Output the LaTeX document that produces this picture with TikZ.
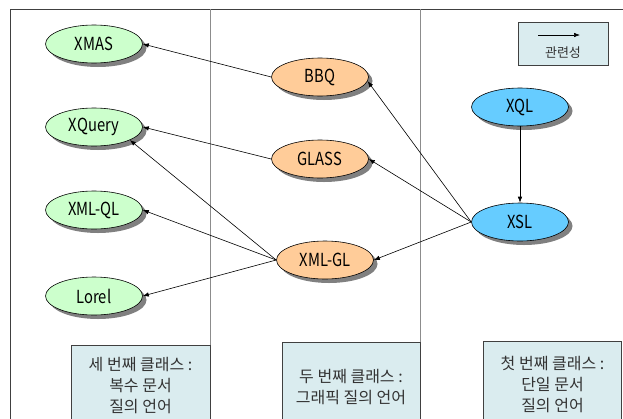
\documentclass[tikz,border=0pt]{standalone}
\usepackage{fontspec}
\setmainfont{Noto Sans CJK KR}[FakeStretch=0.82]
\newfontfamily\korfont{Noto Sans CJK KR}
\usetikzlibrary{shapes.geometric,shadows,arrows.meta}
\definecolor{lgreen}{HTML}{CCFFCC}
\definecolor{lorange}{HTML}{FFCC99}
\definecolor{lblue}{HTML}{66CCFF}
\definecolor{boxfill}{HTML}{DAECEF}
\definecolor{frameclr}{HTML}{404040}
\definecolor{divclr}{HTML}{8C8C8C}
\tikzset{
  lang/.style={ellipse, draw=black, line width=0.6pt, minimum width=97pt, minimum height=38pt,
    inner sep=0pt, font=\fontsize{18}{18}\selectfont,
    drop shadow={shadow xshift=4pt, shadow yshift=-4pt, fill=black!50, opacity=1}},
  g1/.style={lang, fill=lgreen},
  g2/.style={lang, fill=lorange},
  g3/.style={lang, fill=lblue},
  conn/.style={-{Latex[length=6pt,width=4.5pt]}, line width=0.6pt, draw=black},
  classbox/.style={draw=frameclr, fill=boxfill, line width=0.7pt},
  classtxt/.style={align=center, font=\korfont\fontsize{16}{21}\selectfont, text=black!80},
}
\begin{document}
\begin{tikzpicture}[x=1pt,y=-1pt]
\useasboundingbox (0,0) rectangle (623,418);
\clip (0,0) rectangle (623,418);
\fill[white] (0,0) rectangle (623,418);
% frame and dividers
\draw[frameclr, line width=0.8pt] (10,9) rectangle (660,460);
\draw[divclr, line width=0.8pt] (210,9) -- (210,418);
\draw[divclr, line width=0.8pt] (420,9) -- (420,418);
% class boxes
\draw[classbox] (71,345) rectangle (210,440);
\draw[classbox] (282,342) rectangle (420,440);
\draw[classbox] (483,341) rectangle (621.5,440);
\node[classtxt] (c3) at (140.5,386) {세 번째 클래스 :\\복수 문서\\질의 언어};
\node[classtxt] (c2) at (351,387) {두 번째 클래스 :\\그래픽 질의 언어};
\node[classtxt] (c1) at (552.5,384) {첫 번째 클래스 :\\단일 문서\\질의 언어};
% legend
\draw[classbox] (518,22) rectangle (608,65);
\coordinate (la) at (538,35);
\coordinate (lb) at (580,35);
\draw[conn] (la) -- (lb);
\node[font=\korfont\fontsize{13}{13}\selectfont, text=black!80] (lt) at (563,53) {관련성};
% nodes
\node[g1] (xmas) at (94,44) {XMAS};
\node[g1] (xquery) at (94,127) {XQuery};
\node[g1] (xmlql) at (94,210) {XML-QL};
\node[g1] (lorel) at (94,296) {Lorel};
\node[g2] (bbq) at (320,77) {BBQ};
\node[g2] (glass) at (320,159) {GLASS};
\node[g2] (xmlgl) at (325,260) {XML-GL};
\node[g3] (xql) at (520,107) {XQL};
\node[g3] (xsl) at (520,222) {XSL};
% connectors
\draw[conn] (bbq.west) -- (xmas.east);
\draw[conn] (glass.west) -- (xquery.east);
\draw[conn] (xmlgl.west) -- (xquery.-20);
\draw[conn] (xmlgl.west) -- (xmlql.east);
\draw[conn] (xmlgl.west) -- (lorel.east);
\draw[conn] (xsl.west) -- (bbq.-5);
\draw[conn] (xsl.west) -- (glass.east);
\draw[conn] (xsl.west) -- (xmlgl.east);
\draw[conn] (xql) -- (xsl);
\end{tikzpicture}
\end{document}
